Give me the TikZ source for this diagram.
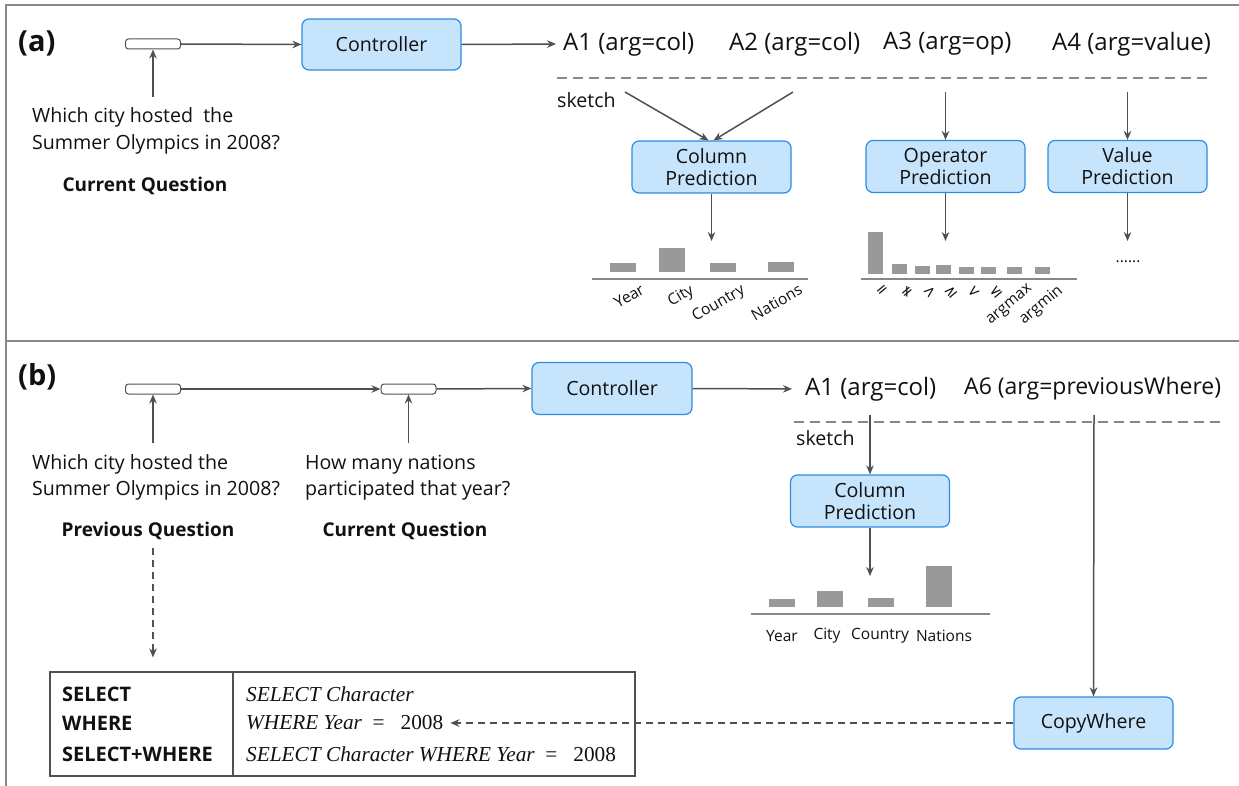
\documentclass[tikz,border=0pt]{standalone}
\usepackage{fontspec}
\setmainfont{Open Sans}
\newfontfamily\symfont{DejaVu Sans}
\newfontfamily\tabfont{Liberation Serif}
\usetikzlibrary{arrows.meta,calc}
\definecolor{boxfill}{HTML}{C6E5FC}
\definecolor{boxline}{HTML}{2D8CE3}
\definecolor{arrcol}{HTML}{505050}
\definecolor{barcol}{HTML}{999999}
\definecolor{framecol}{HTML}{888888}
\definecolor{txtcol}{HTML}{111111}
\tikzset{
  fnormal/.style={font=\fontsize{19.6}{22}\selectfont},
  fbig/.style={font=\fontsize{24}{28}\selectfont},
  fbold/.style={font=\fontsize{19}{22}\selectfont\bfseries},
  ftbold/.style={font=\fontsize{20}{24}\selectfont\bfseries},
  fsmall/.style={font=\fontsize{15.5}{18}\selectfont},
  fsym/.style={font=\fontsize{15}{18}\selectfont\symfont},
  ftab/.style={font=\fontsize{21.3}{24}\selectfont\tabfont},
  txt/.style={inner sep=0pt, text=txtcol},
  bluebox/.style={draw=boxline, fill=boxfill, line width=1.2pt, rounded corners=7pt,
    minimum width=159pt, minimum height=52pt, align=center, fnormal, text=txtcol,
    inner sep=0pt},
  inbox/.style={draw=arrcol, fill=white, line width=1pt, rounded corners=3pt,
    minimum width=55pt, minimum height=10pt, inner sep=0pt},
  arr/.style={draw=arrcol, line width=1.5pt, -{Stealth[length=9pt,width=7.5pt,inset=3pt]}},
  darr/.style={arr, dash pattern=on 7pt off 5pt},
  sketchline/.style={draw=framecol, line width=1.5pt, dash pattern=on 10pt off 6pt},
  baseline/.style={draw=framecol, line width=1.6pt},
  barbox/.style={fill=barcol},
  framel/.style={draw=framecol, line width=2pt},
}
\begin{document}
\begin{tikzpicture}[x=1pt,y=-1pt]
\useasboundingbox (0,0) rectangle (1239,786);
\fill[white] (0,0) rectangle (1239,786);
% frame
\draw[framel] (1239,5) -- (6,5) -- (6,786);
\draw[framel] (6,341) -- (1239,341);

% ================= panel (a)
\node[txt, anchor=west, font=\fontsize{29}{32}\selectfont\bfseries] (la) at (18,43) {(a)};
\node[inbox] (qa) at (153,44) {};
\node[txt, fnormal, anchor=base west] (qa1) at (32,123) {Which city hosted\ \ the};
\node[txt, fnormal, anchor=base west] (qa2) at (32,150) {Summer Olympics in 2008?};
\node[txt, fbold] (cqa) at (145,186) {Current Question};
\coordinate (qain) at (153,97);
\draw[arr] (qain) -- (qa.south);

\node[bluebox, minimum width=159pt, minimum height=51pt] (ctrla) at (381.5,44.5) {Controller};
\draw[arr] (qa.east) -- (ctrla.west);

\node[txt, fbig, anchor=west] (a1) at (563,44) {A1 (arg=col)};
\node[txt, fbig, anchor=west] (a2) at (729,44) {A2 (arg=col)};
\node[txt, fbig, anchor=west] (a3) at (883,44) {A3 (arg=op)};
\node[txt, fbig, anchor=west] (a4) at (1052,44) {A4 (arg=value)};
\draw[arr, shorten >=7pt] (ctrla.east) -- (a1.west);

\coordinate (skA) at (557,78);
\coordinate (skB) at (1212,78);
\draw[sketchline] (skA) -- (skB);
\node[txt, fnormal, anchor=west] (ska) at (557,100) {sketch};

\node[bluebox] (colpa) at (711.5,167) {Column\\Prediction};
\node[bluebox] (oppa) at (945.5,166.5) {Operator\\Prediction};
\node[bluebox] (valpa) at (1127.5,166.5) {Value\\Prediction};

\coordinate (a1out) at (625,92);
\coordinate (a2out) at (793,92);
\coordinate (a3out) at (945.5,92);
\coordinate (a4out) at (1127.5,92);
\draw[arr] (a1out) -- ([xshift=-3pt]colpa.north);
\draw[arr] (a2out) -- ([xshift=2pt]colpa.north);
\draw[arr] (a3out) -- (oppa.north);
\draw[arr] (a4out) -- (valpa.north);

\coordinate (cdist) at (711.5,241);
\coordinate (odist) at (945.5,241);
\coordinate (vdist) at (1127.5,241);
\draw[arr] (colpa.south) -- (cdist);
\draw[arr] (oppa.south) -- (odist);
\draw[arr] (valpa.south) -- (vdist);

% column bars (a)
\fill[barbox] (610,263) rectangle (636,272);
\fill[barbox] (659,248) rectangle (685,272);
\fill[barbox] (710,263) rectangle (736,272);
\fill[barbox] (768,262) rectangle (794,272);
\draw[baseline] (592,279) -- (808,279);
\foreach \cx/\lab/\nm in {623/Year/ya,672/City/ca,723/Country/coa,781/Nations/na}{
  \node[txt, fsmall, rotate=30, anchor=north east] (bl\nm) at (\cx+17,283) {\lab};
}

% operator bars
\fill[barbox] (868,232) rectangle (883,274);
\fill[barbox] (892,264) rectangle (906.5,274);
\fill[barbox] (915,266) rectangle (929.5,274);
\fill[barbox] (936,265) rectangle (950.5,274);
\fill[barbox] (959,267) rectangle (973.5,274);
\fill[barbox] (981,267) rectangle (995.5,274);
\fill[barbox] (1007,267) rectangle (1021.5,274);
\fill[barbox] (1035,267) rectangle (1049.5,274);
\draw[baseline] (861,279) -- (1077,279);
\foreach \cx/\lab/\nm in {875.5/=/o1,899/≠/o2,922/>/o3,943/≥/o4,966/</o5,988/≤/o6}{
  \node[txt, fsym, rotate=40, anchor=north east] (bl\nm) at (\cx+10,284) {\lab};
}
\node[txt, fsmall, rotate=40, anchor=north east] (blo7) at (1027,283) {argmax};
\node[txt, fsmall, rotate=40, anchor=north east] (blo8) at (1056,283) {argmin};
\node[txt, fsmall] (dots) at (1128,262) {......};

% ================= panel (b)
\node[txt, anchor=west, font=\fontsize{29}{32}\selectfont\bfseries] (lb) at (18,377) {(b)};
\node[inbox] (qb1) at (153,389) {};
\node[inbox] (qb2) at (408.5,389) {};
\node[txt, fnormal, anchor=base west] (pb1) at (32,469) {Which city hosted the};
\node[txt, fnormal, anchor=base west] (pb2) at (32,495) {Summer Olympics in 2008?};
\node[txt, fnormal, anchor=base west] (cb1) at (305,469) {How many nations};
\node[txt, fnormal, anchor=base west] (cb2) at (305,495) {participated that year?};
\node[txt, fbold] (pqb) at (148,531) {Previous Question};
\node[txt, fbold] (cqb) at (405,531) {Current Question};
\coordinate (qb1in) at (153,443);
\coordinate (qb2in) at (408.5,443);
\draw[arr] (qb1in) -- (qb1.south);
\draw[arr] (qb2in) -- (qb2.south);
\draw[arr] (qb1.east) -- (qb2.west);

\node[bluebox, minimum width=160pt] (ctrlb) at (612,388.5) {Controller};
\draw[arr] (qb2.east) -- (ctrlb.west);

\node[txt, fbig, anchor=west] (b1) at (805,389) {A1 (arg=col)};
\node[txt, font=\fontsize{23}{28}\selectfont, anchor=west] (b6) at (964,389) {A6 (arg=previousWhere)};
\draw[arr, shorten >=13pt] (ctrlb.east) -- (b1.west);

\coordinate (skC) at (794,422);
\coordinate (skD) at (1221,422);
\draw[sketchline] (skC) -- (skD);
\node[txt, fnormal, anchor=west] (skb) at (796,438) {sketch};

\node[bluebox] (colpb) at (870,501) {Column\\Prediction};
\coordinate (b1out) at (870,415);
\draw[arr] (b1out) -- (colpb.north);
\coordinate (cbdist) at (870,576);
\draw[arr] (colpb.south) -- (cbdist);

\fill[barbox] (769,599) rectangle (795,607);
\fill[barbox] (817,591) rectangle (843,607);
\fill[barbox] (868,598) rectangle (894,607);
\fill[barbox] (926,566) rectangle (952,607);
\draw[baseline] (751,614) -- (990,614);
\node[txt, fsmall] (yb) at (782,636) {Year};
\node[txt, fsmall] (cib) at (827,636) {City};
\node[txt, fsmall] (cob) at (880,636) {Country};
\node[txt, fsmall] (nb) at (944,636) {Nations};

\node[bluebox] (cwb) at (1093.5,723) {CopyWhere};
\coordinate (b6out) at (1094,415);
\draw[arr] (b6out) -- (cwb.north);

% table
\node[draw=arrcol, line width=1.2pt, minimum width=585pt, minimum height=104pt, inner sep=0pt] (tbl) at (342.5,724) {};
\coordinate (tdivT) at (233,672);
\coordinate (tdivB) at (233,776);
\draw[draw=arrcol, line width=1.2pt] (tdivT) -- (tdivB);
\node[txt, ftbold, anchor=west] (t1l) at (62,694) {SELECT};
\node[txt, ftbold, anchor=west] (t2l) at (62,723) {WHERE};
\node[txt, ftbold, anchor=west] (t3l) at (62,754) {SELECT+WHERE};
\node[txt, ftab, anchor=west] (t1r) at (246,694) {\itshape SELECT Character};
\node[txt, ftab, anchor=west] (t2r) at (246,723) {\itshape WHERE Year\ \ \upshape =\ \ \ 2008};
\node[txt, ftab, anchor=west] (t3r) at (246,754) {\itshape SELECT Character WHERE Year\ \ \upshape =\ \ \ 2008};

\draw[darr, shorten >=7pt] (cwb.west) -- (t2r.east);
\coordinate (pqout) at (153,548);
\draw[darr, shorten >=14pt] (pqout) -- (pqout |- tbl.north);
\end{tikzpicture}
\end{document}
